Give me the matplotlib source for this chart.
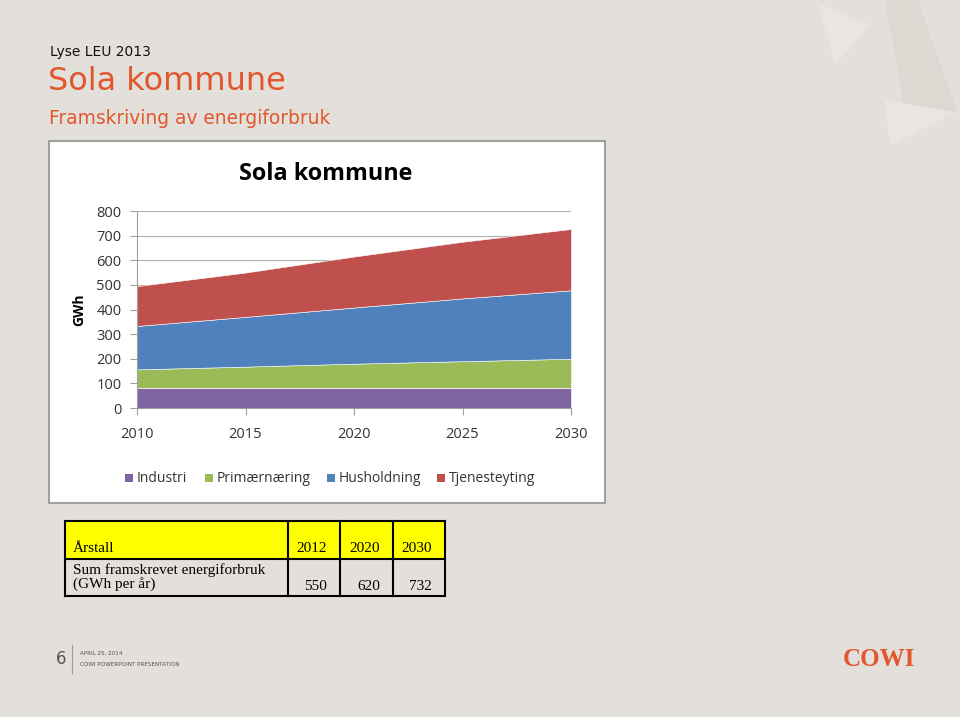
import matplotlib
matplotlib.use("Agg")
import matplotlib.pyplot as plt
from matplotlib.patches import Rectangle, Polygon

# ---- data ----
years = [2010, 2015, 2020, 2025, 2030]
industri = [82, 82, 82, 82, 82]
primaer = [75, 86, 98, 108, 118]
husholdning = [176, 202, 228, 255, 278]
tjeneste = [162, 180, 207, 230, 249]
series_names = ["Industri", "Primærnæring", "Husholdning", "Tjenesteyting"]
series_colors = ["#8064a2", "#9bbb59", "#4f81bd", "#c0504d"]
y_ticks = [0, 100, 200, 300, 400, 500, 600, 700, 800]
x_ticks = [2010, 2015, 2020, 2025, 2030]

table_header = ["Årstall", "2012", "2020", "2030"]
table_row = ["Sum framskrevet energiforbruk\n(GWh per år)", "550", "620", "732"]

W, H = 960, 717
BG = "#e3dfda"
ORANGE = "#e2562d"

fig = plt.figure(figsize=(W / 100, H / 100), dpi=100, facecolor=BG)

# full-page overlay axes in pixel coords (y down)
page = fig.add_axes([0, 0, 1, 1])
page.set_xlim(0, W)
page.set_ylim(H, 0)
page.axis("off")
page.set_facecolor(BG)

# decorative light triangles top right
page.add_patch(Polygon([(885, 0), (918, 0), (957, 112), (905, 112)], closed=True, fc="#ddd8d2", ec="none"))
page.add_patch(Polygon([(818, 3), (870, 25), (835, 65)], closed=True, fc="#e9e6e2", ec="none"))
page.add_patch(Polygon([(885, 100), (955, 112), (890, 145)], closed=True, fc="#e9e6e2", ec="none"))

# header texts
page.text(50, 52, "Lyse LEU 2013", fontsize=10, color="#111111", family="DejaVu Sans", va="center")
page.text(48, 82, "Sola kommune", fontsize=23, color=ORANGE, family="DejaVu Sans", va="center")
page.text(49, 118, "Framskriving av energiforbruk", fontsize=13.4, color=ORANGE, family="DejaVu Sans",
          va="center")

# chart box
page.add_patch(Rectangle((49, 141), 556, 362, fc="white", ec="#a0a0a0", lw=1.5))
page.text(326, 174, "Sola kommune", fontsize=16.8, fontweight="bold", family="Open Sans",
          ha="center", va="center", color="black")
page.text(79, 310, "GWh", fontsize=10, fontweight="bold", family="Open Sans",
          ha="center", va="center", rotation=90, color="black")

# legend
leg_x = [125, 205, 327, 437]
for x, name, c in zip(leg_x, series_names, series_colors):
    page.add_patch(Rectangle((x, 474), 8, 8, fc=c, ec="none"))
    page.text(x + 12, 478, name, fontsize=10, family="Open Sans", va="center", color="#333333")

# table
tx = [65, 288, 340, 393, 445]
ty = [521, 559, 596]
page.add_patch(Rectangle((tx[0], ty[0]), tx[-1] - tx[0], ty[1] - ty[0], fc="#ffff00", ec="none"))
page.add_patch(Rectangle((tx[0], ty[1]), tx[-1] - tx[0], ty[2] - ty[1], fc=BG, ec="none"))
for x in tx:
    page.plot([x, x], [ty[0], ty[2]], color="black", lw=1.5)
for y in ty:
    page.plot([tx[0], tx[-1]], [y, y], color="black", lw=1.5)
fs_t = 11
page.text(tx[0] + 8, 549, table_header[0], fontsize=fs_t, family="Liberation Serif", va="center")
for i in range(1, 4):
    page.text(tx[i + 1] - 13, 549, table_header[i], fontsize=fs_t, family="Liberation Serif",
              va="center", ha="right")
    page.text(tx[i + 1] - 13, 586, table_row[i], fontsize=fs_t, family="Liberation Serif",
              va="center", ha="right")
page.text(tx[0] + 8, 577, table_row[0], fontsize=fs_t, family="Liberation Serif", va="center",
          linespacing=1.05)

# footer
page.text(61, 659, "6", fontsize=12, color="#555555", ha="center", va="center", family="DejaVu Sans")
page.plot([72, 72], [645, 673], color="#9a9a9a", lw=0.8)
page.text(80, 653, "APRIL 25, 2014", fontsize=4.1, color="#555555", va="center", family="DejaVu Sans")
page.text(80, 664, "COWI POWERPOINT PRESENTATION", fontsize=4.1, color="#555555", va="center",
          family="DejaVu Sans")
page.text(879, 660, "COWI", fontsize=18, fontweight="bold", color=ORANGE, ha="center", va="center",
          family="Liberation Serif")

# chart axes
x0, x1, y0, y1 = 137, 571, 211, 408
ax = fig.add_axes([x0 / W, (H - y1) / H, (x1 - x0) / W, (y1 - y0) / H])
ax.set_facecolor("white")
ax.stackplot(years, industri, primaer, husholdning, tjeneste, colors=series_colors,
             edgecolor="white", linewidth=0.4, zorder=2)
ax.set_xlim(2010, 2030)
ax.set_ylim(0, 800)
ax.set_yticks(y_ticks)
ax.set_xticks(x_ticks)
ax.grid(axis="y", color="#b0b0b0", lw=0.8, zorder=0)
ax.set_axisbelow(True)
for s in ["top", "right"]:
    ax.spines[s].set_visible(False)
ax.spines["left"].set_color("#a0a0a0")
ax.spines["bottom"].set_color("#a0a0a0")
ax.tick_params(axis="both", colors="#a0a0a0", length=5, width=0.8, labelcolor="#333333",
               labelsize=10.5)
ax.tick_params(axis="x", pad=9)
ax.tick_params(axis="y", pad=6)
for lab in ax.get_xticklabels() + ax.get_yticklabels():
    lab.set_family("Open Sans")

fig.savefig("out.png", dpi=100, facecolor=BG)
